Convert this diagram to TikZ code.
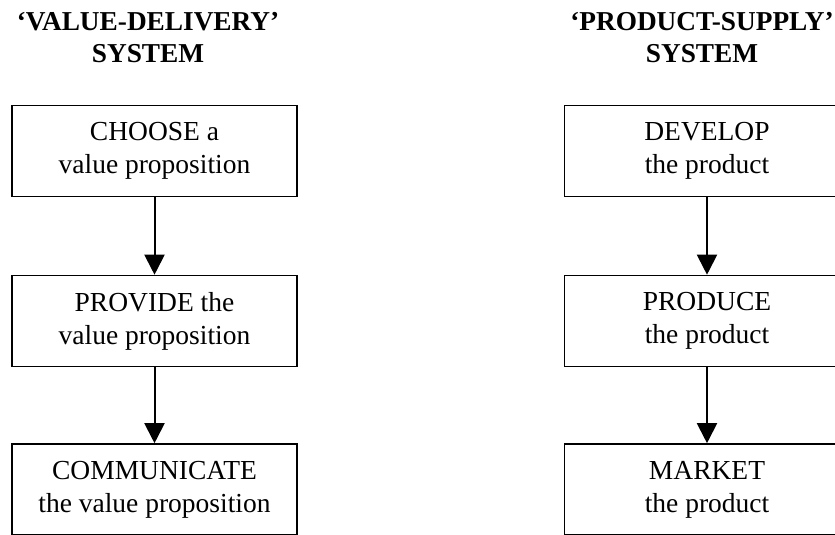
\documentclass[tikz,border=0pt]{standalone}
\usepackage{fontspec}
\setmainfont{Liberation Serif}
\usetikzlibrary{arrows.meta}
\begin{document}
\begin{tikzpicture}[x=1pt,y=-1pt,
  stagebox/.style={draw, line width=1.6pt, minimum width=285pt, minimum height=91pt,
    inner sep=0pt, align=center, font=\fontsize{27.5}{33}\selectfont},
  title/.style={align=center, inner sep=0pt, font=\fontsize{27.3}{32}\selectfont\bfseries},
  flow/.style={line width=2pt, -{Triangle[length=20pt,width=20pt]}}]
\useasboundingbox (0,0) rectangle (835,535);
% column headings
\node[title] (tl) at (148,38) {‘VALUE-DELIVERY’\\SYSTEM};
\node[title] (tr) at (702,38) {‘PRODUCT-SUPPLY’\\SYSTEM};
% value-delivery chain
\node[stagebox] (c1) at (154.5,151) {CHOOSE a\\value proposition};
\node[stagebox] (c2) at (154.5,321) {PROVIDE the\\value proposition};
\node[stagebox] (c3) at (154.5,489.5) {COMMUNICATE\\the value proposition};
% product-supply chain
\node[stagebox] (p1) at (707,151) {DEVELOP\\the product};
\node[stagebox] (p2) at (707,321) {PRODUCE\\the product};
\node[stagebox] (p3) at (707,489.5) {MARKET\\the product};
% connectors
\draw[flow] (c1) -- (c2);
\draw[flow] (c2) -- (c3);
\draw[flow] (p1) -- (p2);
\draw[flow] (p2) -- (p3);
\end{tikzpicture}
\end{document}
